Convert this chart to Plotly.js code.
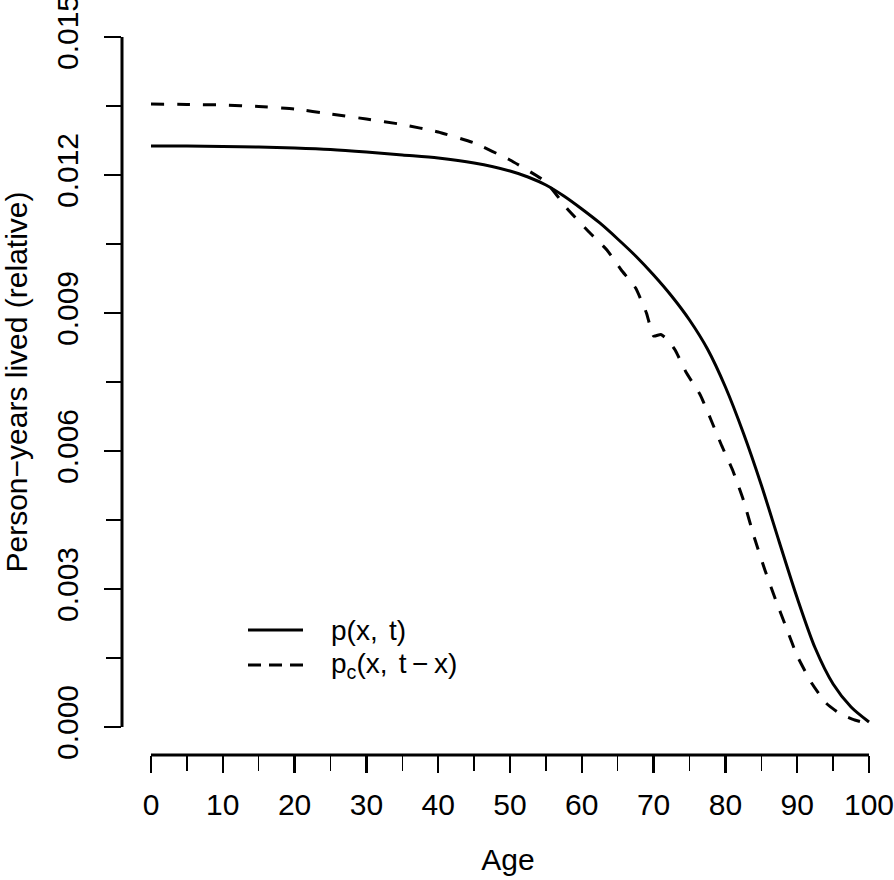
<!DOCTYPE html>
<html>
<head>
<meta charset="utf-8">
<script src="https://cdn.plot.ly/plotly-3.0.1.min.js"></script>
<style>
  html, body { margin: 0; padding: 0; background: #fff; }
  #chart { width: 894px; height: 880px; }
</style>
</head>
<body>
<div id="chart"></div>
<script>
// ---- data ----
const seriesNames = ["p(x,\u2009\u2009t)", "p<sub>c</sub>(x,\u2009\u2009t\u2009\u2212\u2009x)"];

const agesP = [0, 5, 10, 15, 20, 25, 30, 35, 40, 45, 50, 52.5, 55, 57.5, 60,
               62.5, 65, 67.5, 70, 72.5, 75, 77.5, 80, 82.5, 85, 87.5, 90,
               92.5, 95, 97.5, 100];
const valuesP = [0.012630, 0.012630, 0.012620, 0.012609, 0.012587, 0.012554,
                 0.012500, 0.012435, 0.012370, 0.012261, 0.012087, 0.011957,
                 0.011783, 0.011543, 0.011261, 0.010957, 0.010609, 0.010239,
                 0.009826, 0.009370, 0.008848, 0.008217, 0.007391, 0.006391,
                 0.005261, 0.004022, 0.002804, 0.001717, 0.000935, 0.000435,
                 0.000109];

const agesPc = [0, 5, 10, 15, 20, 25, 30, 35, 40, 45, 50, 55, 58, 61, 63.5,
                65.5, 67.5, 69, 70, 71, 72, 73, 74.5, 76.5, 78, 79.5, 81,
                82.5, 84, 85.5, 87, 88.5, 90, 92, 94, 96, 98, 99.5];
const valuesPc = [0.013543, 0.013533, 0.013522, 0.013489, 0.013435, 0.013326,
                  0.013217, 0.013098, 0.012935, 0.012696, 0.012326, 0.011848,
                  0.011261, 0.010761, 0.010370, 0.009935, 0.009543, 0.009000,
                  0.008500, 0.008533, 0.008413, 0.008196, 0.007717, 0.007217,
                  0.006674, 0.006109, 0.005587, 0.004935, 0.004130, 0.003413,
                  0.002761, 0.002152, 0.001543, 0.000957, 0.000522, 0.000283,
                  0.000152, 0.000087];

const xTicks = [0, 10, 20, 30, 40, 50, 60, 70, 80, 90, 100];
const xTickLabels = ["0", "10", "20", "30", "40", "50", "60", "70", "80", "90", "100"];
const xMinorTicks = [5, 15, 25, 35, 45, 55, 65, 75, 85, 95];
const yTicks = [0, 0.003, 0.006, 0.009, 0.012, 0.015];
const yTickLabels = ["0.000", "0.003", "0.006", "0.009", "0.012", "0.015"];
const yMinorTicks = [0.0015, 0.0045, 0.0075, 0.0105, 0.0135];

const xTitle = "Age";
const yTitle = "Person\u2212years lived (relative)";

// ---- drawing ----
const FONT = "Liberation Sans, Arial, Helvetica, sans-serif";
const FS = 30;
const LW = 3;

const traces = [
  { x: agesP, y: valuesP, type: "scatter", mode: "lines", name: seriesNames[0],
    line: { color: "#000", width: LW, shape: "spline", smoothing: 0.8 },
    showlegend: false },
  { x: agesPc, y: valuesPc, type: "scatter", mode: "lines", name: seriesNames[1],
    line: { color: "#000", width: LW, dash: "13px,13px", shape: "spline", smoothing: 0.4 },
    showlegend: false }
];

const W = 894, H = 880, mL = 122, mR = 0, mT = 9, mB = 125;
const pw = W - mL - mR, ph = H - mT - mB;
const px2x = p => (p - mL) / pw;
const py2y = p => (H - mB - p) / ph;

const legendKeys = [
  { y: 630, dash: "solid" },
  { y: 665, dash: "13px,8px" }
];

const shapes = [
  // axis lines spanning the tick range (R style)
  { type: "line", xref: "x", yref: "paper", x0: xTicks[0], x1: xTicks[xTicks.length - 1],
    y0: 0, y1: 0, line: { color: "#000", width: 3 } },
  { type: "line", xref: "paper", yref: "y", x0: 0, x1: 0,
    y0: yTicks[0], y1: yTicks[yTicks.length - 1], line: { color: "#000", width: 3 } }
];
const annotations = [];
legendKeys.forEach((k, i) => {
  shapes.push({ type: "line", xref: "paper", yref: "paper",
    x0: px2x(248), x1: px2x(303), y0: py2y(k.y), y1: py2y(k.y),
    line: { color: "#000", width: LW, dash: k.dash } });
  annotations.push({ xref: "paper", yref: "paper", x: px2x(329), y: py2y(k.y),
    xanchor: "left", yanchor: "middle", showarrow: false, text: seriesNames[i],
    font: { family: FONT, size: 28, color: "#000" } });
});

const layout = {
  width: W, height: H,
  margin: { l: mL, r: mR, t: mT, b: mB, pad: 0 },
  paper_bgcolor: "#fff", plot_bgcolor: "#fff",
  font: { family: FONT, size: FS, color: "#000" },
  showlegend: false,
  xaxis: {
    range: [-4.04, 103.48], showgrid: false, zeroline: false, showline: false,
    tickmode: "array", tickvals: xTicks, ticktext: xTickLabels,
    ticks: "outside", ticklen: 17, tickwidth: 2.5, tickcolor: "#000",
    ticklabelstandoff: 6, ticklabeloverflow: "allow",
    minor: { tickmode: "array", tickvals: xMinorTicks, ticks: "outside",
             ticklen: 15, tickwidth: 1.3, tickcolor: "#000" },
    tickfont: { family: FONT, size: FS, color: "#000" },
    title: { text: xTitle, standoff: 28, font: { family: FONT, size: FS, color: "#000" } }
  },
  yaxis: {
    range: [-0.000609, 0.0156087], showgrid: false, zeroline: false, showline: false,
    tickmode: "array", tickvals: yTicks, ticktext: yTickLabels,
    ticks: "outside", ticklen: 17, tickwidth: 2.5, tickcolor: "#000",
    tickangle: -90, ticklabelstandoff: 14, ticklabeloverflow: "allow",
    minor: { tickmode: "array", tickvals: yMinorTicks, ticks: "outside",
             ticklen: 15, tickwidth: 1.3, tickcolor: "#000" },
    tickfont: { family: FONT, size: FS, color: "#000" },
    title: { text: yTitle, standoff: 21, font: { family: FONT, size: FS, color: "#000" } }
  },
  shapes: shapes,
  annotations: annotations
};

Plotly.newPlot("chart", traces, layout, { staticPlot: true, displayModeBar: false });
</script>
</body>
</html>
